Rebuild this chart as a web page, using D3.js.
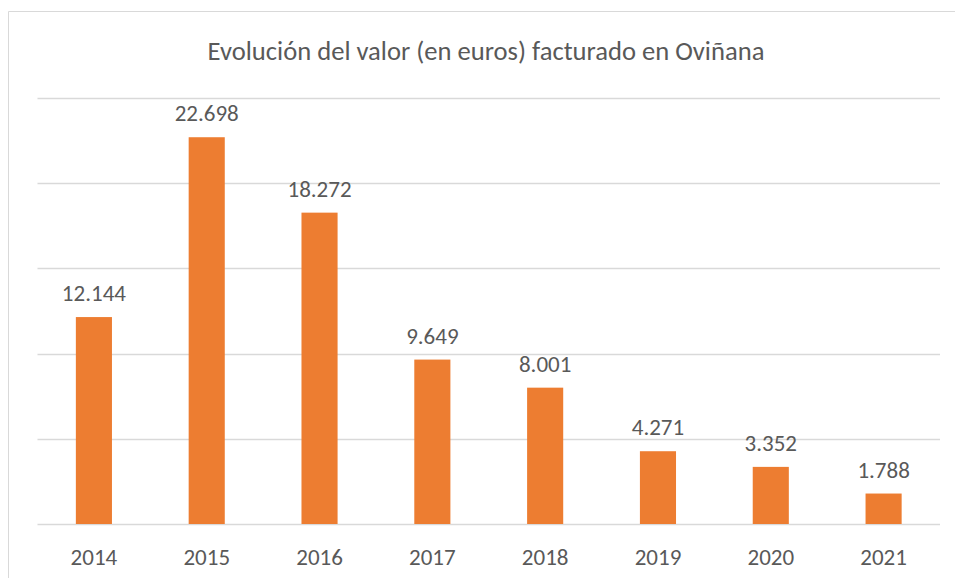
<!DOCTYPE html>
<html>
<head>
<meta charset="utf-8">
<script src="https://d3js.org/d3.v7.min.js"></script>
<style>
  body { margin: 0; background: #fff; }
  text { font-family: Carlito, Calibri, "Open Sans", sans-serif; fill: #595959; }
</style>
</head>
<body>
<div id="chart"></div>
<script>
  // data
  var years = ["2014", "2015", "2016", "2017", "2018", "2019", "2020", "2021"];
  var values = [12144, 22698, 18272, 9649, 8001, 4271, 3352, 1788];
  var yTicks = [0, 5000, 10000, 15000, 20000, 25000];

  var W = 955, H = 578;
  var margin = {top: 98, right: 15, bottom: 54, left: 37.5};
  var width = 940 - margin.left, height = 524 - margin.top;

  var svg = d3.select("#chart").append("svg")
    .attr("width", W).attr("height", H);

  // chart frame (runs off the right and bottom of the picture)
  svg.append("path")
    .attr("d", "M8.5," + H + "V11.5H" + W)
    .attr("fill", "none")
    .attr("stroke", "#d9d9d9")
    .attr("stroke-width", 1);

  var g = svg.append("g")
    .attr("transform", "translate(" + margin.left + "," + margin.top + ")");

  var x = d3.scaleBand().domain(years).range([0, width]).paddingInner(0.68).paddingOuter(0.34);
  var y = d3.scaleLinear().domain([0, 25000]).range([height, 0]);

  // gridlines
  g.append("g")
    .selectAll("line")
    .data(yTicks)
    .enter().append("line")
      .attr("x1", 0).attr("x2", width)
      .attr("y1", function(d) { return Math.round(y(d)) + 0.5; })
      .attr("y2", function(d) { return Math.round(y(d)) + 0.5; })
      .attr("stroke", "#d9d9d9")
      .attr("stroke-width", 1.5);

  // bars
  g.append("g")
    .selectAll("rect")
    .data(values)
    .enter().append("rect")
      .attr("x", function(d, i) { return x(years[i]); })
      .attr("y", function(d) { return y(d); })
      .attr("width", x.bandwidth())
      .attr("height", function(d) { return height - y(d); })
      .attr("fill", "#ED7D31");

  // value labels
  g.append("g")
    .selectAll("text")
    .data(values)
    .enter().append("text")
      .attr("x", function(d, i) { return x(years[i]) + x.bandwidth() / 2; })
      .attr("y", function(d) { return y(d) - 16; })
      .attr("text-anchor", "middle")
      .style("font-size", "23px")
      .text(function(d) { return d3.format(",")(d).replace(/,/g, "."); });

  // x axis labels
  var xAxis = g.append("g")
    .attr("transform", "translate(0," + height + ")")
    .call(d3.axisBottom(x).tickSize(0).tickPadding(0));
  xAxis.select(".domain").remove();
  xAxis.selectAll("text")
    .attr("dy", null)
    .attr("y", 41)
    .style("font-size", "23px")
    .attr("fill", "#595959")
    .attr("font-family", null);

  // title
  svg.append("text")
    .attr("x", 486)
    .attr("y", 60)
    .attr("text-anchor", "middle")
    .style("font-size", "26.6px")
    .text("Evolución del valor (en euros) facturado en Oviñana");
</script>
</body>
</html>
